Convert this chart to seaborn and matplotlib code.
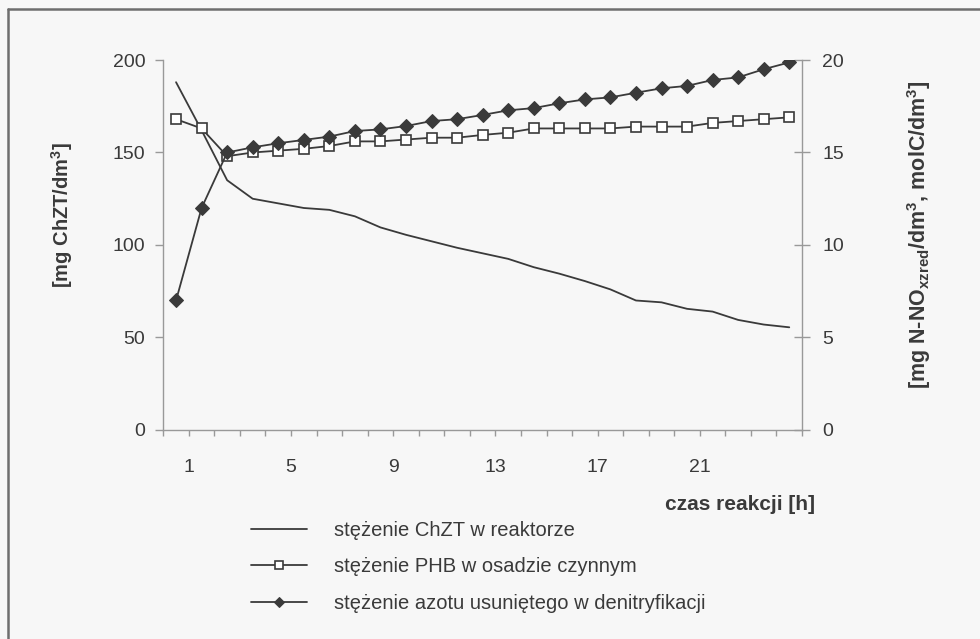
import numpy as np
import pandas as pd
import seaborn as sns
import matplotlib.pyplot as plt
from matplotlib.lines import Line2D

# reaction time steps (h) and measured series
hours = list(range(1, 26))
chzt = [188, 162, 135, 125, 122.5, 120, 119, 115.5, 109.5, 105.5, 102, 98.5, 95.5,
        92.5, 88, 84.5, 80.5, 76, 70, 69, 65.5, 64, 59.5, 57, 55.5]
phb = [16.8, 16.3, 14.8, 15.0, 15.1, 15.2, 15.35, 15.6, 15.6, 15.7, 15.8, 15.8, 15.95,
       16.07, 16.3, 16.3, 16.3, 16.3, 16.4, 16.4, 16.4, 16.6, 16.7, 16.8, 16.9]
azot = [7.0, 12.0, 15.0, 15.28, 15.5, 15.68, 15.86, 16.16, 16.25, 16.43, 16.7, 16.8, 17.03,
        17.28, 17.4, 17.66, 17.87, 17.98, 18.23, 18.47, 18.6, 18.92, 19.06, 19.5, 19.87]
xtick_labels = ["1", "5", "9", "13", "17", "21"]

df = pd.DataFrame({"godz": hours, "chzt": chzt, "phb": phb, "azot": azot})

sns.set_theme(style="white")
plt.rcParams['font.family'] = ['Liberation Sans', 'DejaVu Sans']
plt.rcParams['mathtext.fontset'] = 'custom'
plt.rcParams['mathtext.rm'] = 'Liberation Sans'
plt.rcParams['mathtext.bf'] = 'Liberation Sans:bold'

bg = '#f7f7f7'
ink = '#3a3a3a'
axis_col = '#999999'
fs = 14

fig = plt.figure(figsize=(9.8, 6.39), dpi=100, facecolor=bg)
ax = fig.add_axes([0.1666, 0.3271, 0.6518, 0.579])
ax.set_facecolor(bg)
ax2 = ax.twinx()

sns.lineplot(data=df, x="godz", y="chzt", ax=ax, color=ink, lw=1.3,
             label="stężenie ChZT w reaktorze", legend=False)
sns.lineplot(data=df, x="godz", y="phb", ax=ax2, color=ink, lw=1.3, marker='s',
             markersize=6.8, markerfacecolor='white', markeredgecolor=ink, markeredgewidth=1.2,
             label="stężenie PHB w osadzie czynnym", legend=False)
sns.lineplot(data=df, x="godz", y="azot", ax=ax2, color=ink, lw=1.3, marker='D',
             markersize=6.8, markerfacecolor=ink, markeredgecolor=ink,
             label="stężenie azotu usuniętego w denitryfikacji", legend=False)

ax.set_xlim(0.5, len(hours) + 0.5)
ax.set_ylim(0, 200)
ax2.set_ylim(0, 20)
ax.set_yticks(np.arange(0, 201, 50))
ax2.set_yticks(np.arange(0, 21, 5))

# category boundaries as tick marks, labels every 4th category
bounds = np.arange(0.5, len(hours) + 1, 1)
lab_pos = {int(s) + 0.5: s for s in xtick_labels}
ax.set_xticks(bounds)
ax.set_xticklabels([lab_pos.get(b, "") for b in bounds])

for a in (ax, ax2):
    a.spines['top'].set_visible(False)
    for s in ('left', 'right', 'bottom'):
        a.spines[s].set_color(axis_col)
        a.spines[s].set_linewidth(1.0)
ax.spines['right'].set_visible(False)
ax2.spines['left'].set_visible(False)
ax2.spines['bottom'].set_visible(False)

ax.tick_params(axis='y', direction='out', length=6, width=1, color=axis_col,
               labelsize=fs, labelcolor=ink, pad=7, left=True)
ax.tick_params(axis='x', direction='out', length=4, width=1, color=axis_col,
               labelsize=fs, labelcolor=ink, pad=17, bottom=True)
ax2.tick_params(axis='y', direction='inout', length=11, width=1, color=axis_col,
                labelsize=fs, labelcolor=ink, pad=9, right=True)
ax.grid(False)
ax2.grid(False)

ax.set_xlabel("")
ax.set_ylabel("[mg ChZT/dm$^{\\mathbf{3}}$]", fontsize=14.5, fontweight='bold', color=ink)
ax.yaxis.set_label_coords(-0.138, 0.58)
ax2.set_ylabel("[mg N-NO$_{\\mathbf{xzred}}$/dm$^{\\mathbf{3}}$, molC/dm$^{\\mathbf{3}}$]",
               fontsize=15.5, fontweight='bold', color=ink, rotation=90)
ax2.yaxis.set_label_coords(1.162, 0.527)

fig.text(815 / 980, 1 - 505 / 639, "czas reakcji [h]", ha='right', va='center',
         fontsize=15, fontweight='bold', color=ink)

handles = ax.get_lines()[:1] + ax2.get_lines()
labels = [h.get_label() for h in handles]
fig.legend(handles, labels, loc='center left', bbox_to_anchor=(241 / 980, 1 - 567 / 639),
           frameon=False, fontsize=14.5, labelcolor=ink, handlelength=2.8,
           handletextpad=1.3, labelspacing=0.85, borderpad=0, markerscale=0.8)

# scanned page frame (left and top edge)
fig.add_artist(Line2D([8 / 980, 8 / 980], [0, 1 - 9 / 639], transform=fig.transFigure,
                      color='#6e6e6e', lw=1.8))
fig.add_artist(Line2D([8 / 980, 1], [1 - 9 / 639, 1 - 9 / 639], transform=fig.transFigure,
                      color='#6e6e6e', lw=1.8))

fig.savefig("out.png", dpi=100, facecolor=bg)
